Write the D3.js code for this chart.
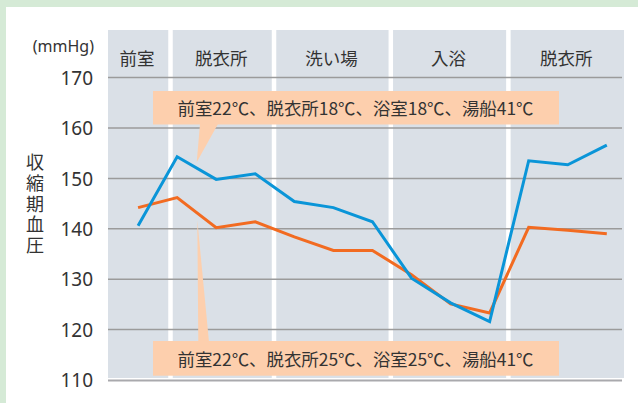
<!DOCTYPE html>
<html lang="ja">
<head>
<meta charset="utf-8">
<title>収縮期血圧</title>
<script src="https://cdn.jsdelivr.net/npm/d3@7"></script>
<style>
  html, body { margin: 0; padding: 0; background: #fff; }
  svg { display: block; }
  text { font-family: "Noto Sans", "Noto Sans CJK JP", sans-serif; fill: #333; }
</style>
</head>
<body>
<script>
// rooms along the bathing sequence, and how many measurements fall in each
var rooms = ["前室", "脱衣所", "洗い場", "入浴", "脱衣所"];
var roomCounts = [1, 3, 3, 3, 3];

// systolic pressure (mmHg)
var coldSeries = [140.6, 154.3, 149.8, 150.9, 145.4, 144.2, 141.4, 130.2, 125.3, 121.6, 153.5, 152.7, 156.6];
var warmSeries = [144.2, 146.2, 140.2, 141.4, 138.4, 135.7, 135.7, 130.9, 125.1, 123.3, 140.3, 139.7, 139.0];

var yTicks = [110, 120, 130, 140, 150, 160, 170];
var coldLabel = "前室22℃、脱衣所18℃、浴室18℃、湯船41℃";
var warmLabel = "前室22℃、脱衣所25℃、浴室25℃、湯船41℃";

var w = 638, h = 403;
var panel = { left: 108, right: 624, top: 30, bottom: 378 };

var svg = d3.select("body").append("svg")
  .attr("width", w)
  .attr("height", h);

// green frame
svg.append("rect").attr("width", w).attr("height", h).attr("fill", "#d5ead6");
svg.append("rect").attr("x", 6).attr("y", 7).attr("width", w - 6).attr("height", h - 7).attr("fill", "#fff");

// x: measurement index, padded so the first room is narrower
var x = d3.scaleLinear()
  .domain([-0.77, 12.44])
  .range([panel.left, panel.right]);

var y = d3.scaleLinear()
  .domain([110, 170])
  .range([380, 77.6]);

// room boundaries (in index units)
var edges = [-0.77, 0.83, 3.48, 6.47, 9.48, 12.44];

var gap = 4.5;
var cols = svg.append("g");
rooms.forEach(function(r, i) {
  var x0 = x(edges[i]) + (i > 0 ? gap / 2 : 0);
  var x1 = x(edges[i + 1]) - (i < rooms.length - 1 ? gap / 2 : 0);
  cols.append("rect")
    .attr("x", x0).attr("y", panel.top)
    .attr("width", x1 - x0).attr("height", panel.bottom - panel.top)
    .attr("fill", "#dae0e7");
  cols.append("text")
    .attr("x", (x0 + x1) / 2 - 1)
    .attr("y", 57)
    .attr("text-anchor", "middle")
    .attr("dominant-baseline", "central")
    .style("font-size", "17.5px")
    .style("font-family", "'Noto Sans CJK JP', sans-serif")
    .text(r);
});

// gridlines
svg.append("g").selectAll("line")
  .data(yTicks.slice(1))
  .enter().append("line")
  .attr("x1", panel.left).attr("x2", 622)
  .attr("y1", function(d) { return y(d); })
  .attr("y2", function(d) { return y(d); })
  .attr("stroke", "#9b9b9b")
  .attr("stroke-width", 1.5);

svg.append("line")
  .attr("x1", panel.left).attr("x2", 622)
  .attr("y1", y(110) + 0.5).attr("y2", y(110) + 0.5)
  .attr("stroke", "#a9a9ad")
  .attr("stroke-width", 2);

// y axis labels
var yAxis = d3.axisLeft(y).tickValues(yTicks).tickSize(0).tickPadding(0);
var ga = svg.append("g").attr("transform", "translate(93,0)").call(yAxis);
ga.select(".domain").remove();
ga.selectAll("text")
  .attr("dy", "0.35em")
  .style("font-size", "19px")
  .style("font-family", "'Noto Sans', sans-serif")
  .attr("fill", "#333");

svg.append("text")
  .attr("x", 94).attr("y", 46)
  .attr("text-anchor", "end")
  .attr("dominant-baseline", "central")
  .style("font-size", "16px")
  .text("(mmHg)");

// vertical title
svg.append("text")
  .attr("x", 35)
  .attr("y", 205)
  .attr("text-anchor", "middle")
  .style("writing-mode", "vertical-rl")
  .style("letter-spacing", "2.6px")
  .style("font-size", "18px")
  .style("font-family", "'Noto Sans CJK JP', sans-serif")
  .text("収縮期血圧");

// callouts
function callout(label, box, tri) {
  var g = svg.append("g");
  g.append("path")
    .attr("d", "M" + tri.map(function(p) { return p.join(","); }).join("L") + "Z")
    .attr("fill", "#fdcfad");
  g.append("rect")
    .attr("x", box[0]).attr("y", box[1])
    .attr("width", box[2] - box[0]).attr("height", box[3] - box[1])
    .attr("fill", "#fdcfad");
  g.append("text")
    .attr("x", (box[0] + box[2]) / 2 - 0.5)
    .attr("y", (box[1] + box[3]) / 2)
    .attr("text-anchor", "middle")
    .attr("dominant-baseline", "central")
    .attr("textLength", 356)
    .attr("lengthAdjust", "spacingAndGlyphs")
    .style("font-size", "17px")
    .style("font-family", "'Noto Sans CJK JP', sans-serif")
    .text(label);
}
callout(coldLabel, [153, 91, 559, 124.5], [[200, 124], [218, 124], [196.7, 162.3]]);
callout(warmLabel, [153, 341, 559, 375.7], [[197.3, 220], [198.3, 342], [209, 342]]);

// lines
var line = d3.line()
  .x(function(d, i) { return x(i); })
  .y(function(d) { return y(d); });

svg.append("path")
  .datum(warmSeries)
  .attr("d", line)
  .attr("fill", "none")
  .attr("stroke", "#f26b21")
  .attr("stroke-width", 3);

svg.append("path")
  .datum(coldSeries)
  .attr("d", line)
  .attr("fill", "none")
  .attr("stroke", "#0a95d8")
  .attr("stroke-width", 3);
</script>
</body>
</html>
